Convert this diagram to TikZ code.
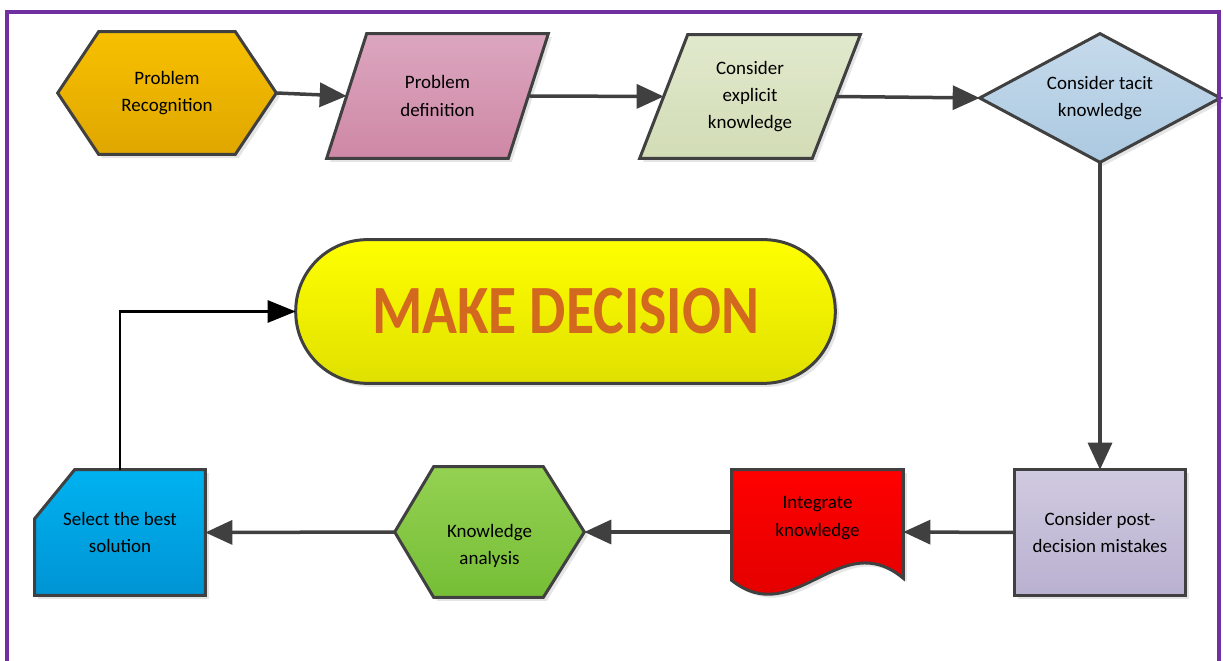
\documentclass[tikz,border=0pt]{standalone}
\usepackage{fontspec}
\setmainfont{Carlito}
\usetikzlibrary{arrows.meta, calc, backgrounds, shadows}
\definecolor{edge}{HTML}{404040}
\definecolor{frm}{HTML}{7030A0}
\definecolor{prT}{HTML}{F8C000}
\definecolor{prB}{HTML}{DFA700}
\definecolor{pdT}{HTML}{DCA6BF}
\definecolor{pdB}{HTML}{CE88A6}
\definecolor{ceT}{HTML}{E1E9CD}
\definecolor{ceB}{HTML}{D2DCB5}
\definecolor{ctT}{HTML}{C6DAEB}
\definecolor{ctB}{HTML}{ABC9E1}
\definecolor{pmT}{HTML}{D0CAE0}
\definecolor{pmB}{HTML}{B9B1D0}
\definecolor{ikT}{HTML}{FF0000}
\definecolor{ikB}{HTML}{DC0000}
\definecolor{kaT}{HTML}{94D152}
\definecolor{kaB}{HTML}{76BE36}
\definecolor{sbT}{HTML}{00B2F0}
\definecolor{sbB}{HTML}{0094D4}
\definecolor{mdT}{HTML}{FFFF00}
\definecolor{mdB}{HTML}{E0E000}
\definecolor{mdtext}{HTML}{D2691E}

\begin{document}
\begin{tikzpicture}[
    x=0.02cm, y=-0.02cm,
    font=\fontsize{10.8}{15.5}\selectfont,
    box/.style={rectangle, inner sep=0pt, align=center},
    shp/.style={draw=edge, line width=0.06cm,
      drop shadow={shadow xshift=0.07cm, shadow yshift=-0.07cm, fill=black!25, opacity=0.4}},
    flow/.style={-{Triangle[length=0.54cm, width=0.48cm]}, draw=edge, line width=0.07cm},
    back/.style={-{Triangle[length=0.56cm, width=0.44cm]}, draw=black, line width=0.055cm},
    frame/.style={draw=frm, line width=0.09cm},
  ]
  \useasboundingbox (0,0) rectangle (1223,661);
  \draw[frame] (7,661) -- (7,12) -- (1219,12) -- (1219,661);
  % ------------------------------------------------------------------ top row
  \node[box, minimum width=4.36cm, minimum height=2.44cm] (pr) at (167,93) {Problem\\Recognition};
  \node[box, minimum width=4.42cm, minimum height=2.48cm] (pd) at (437.5,96) {Problem\\definition};
  \node[box, minimum width=4.4cm, minimum height=2.46cm] (ce) at (750,96.5) {Consider\\explicit\\knowledge};
  \node[box, minimum width=4.8cm, minimum height=2.56cm] (ct) at (1100,98) {Consider tacit\\knowledge};
  % ------------------------------------------------------------------ centre
  \node[box, minimum width=10.78cm, minimum height=2.86cm, text=mdtext,
        font=\bfseries\fontsize{32.8}{36}\selectfont] (md) at (565.5,311.5) {\scalebox{1}[1.2]{MAKE DECISION}};
  % ------------------------------------------------------------------ bottom row
  \node[box, minimum width=3.4cm, minimum height=2.5cm] (pm) at (1100,532.5) {Consider post-\\decision mistakes};
  \node[box, minimum width=3.42cm, minimum height=2.48cm, text depth=0.62cm] (ik) at (817.5,532) {Integrate\\knowledge};
  \node[box, minimum width=3.78cm, minimum height=2.6cm, text height=1.36cm] (ka) at (489.5,532) {Knowledge\\analysis};
  \node[box, minimum width=3.4cm, minimum height=2.5cm] (sb) at (120,532.5) {Select the best\\solution};
  % ------------------------------------------------------------------ shapes behind the texts
  \begin{scope}[on background layer]
    \path[shp, top color=prT, bottom color=prB] (pr.west) -- ($(pr.north west)+(41,0)$) -- ($(pr.north east)+(-41,0)$)
      -- (pr.east) -- ($(pr.south east)+(-41,0)$) -- ($(pr.south west)+(41,0)$) -- cycle;
    \path[shp, top color=pdT, bottom color=pdB] (pd.south west) -- ($(pd.north west)+(40,0)$) -- (pd.north east)
      -- ($(pd.south east)+(-40,0)$) -- cycle;
    \path[shp, top color=ceT, bottom color=ceB] (ce.south west) -- ($(ce.north west)+(48,0)$) -- (ce.north east)
      -- ($(ce.south east)+(-48,0)$) -- cycle;
    \path[shp, top color=ctT, bottom color=ctB] (ct.west) -- (ct.north) -- (ct.east) -- (ct.south) -- cycle;
    \path[shp, top color=mdT, bottom color=mdB, rounded corners=1.43cm] (md.north west) rectangle (md.south east);
    \path[shp, top color=pmT, bottom color=pmB] (pm.north west) rectangle (pm.south east);
    \path[shp, top color=ikT, bottom color=ikB] (ik.north west) -- (ik.north east) -- ($(ik.south east)+(0,-16)$)
      .. controls ($(ik.south east)+(-63,-69)$) and ($(ik.south west)+(63,36)$) .. ($(ik.south west)+(0,-14)$) -- cycle;
    \path[shp, top color=kaT, bottom color=kaB] (ka.west) -- ($(ka.north west)+(39,0)$) -- ($(ka.north east)+(-41,0)$)
      -- (ka.east) -- ($(ka.south east)+(-41,0)$) -- ($(ka.south west)+(39,0)$) -- cycle;
    \path[shp, top color=sbT, bottom color=sbB] (sb.south west) -- ($(sb.north west)+(0,49)$) -- ($(sb.north west)+(40,0)$)
      -- (sb.north east) -- (sb.south east) -- cycle;
  \end{scope}
  % ------------------------------------------------------------------ connectors
  \draw[flow] (pr.east) -- ($(pd.west)+(20,0)$);
  \draw[flow] ($(pd.east)+(-20,0)$) -- ($(ce.west)+(24,0)$);
  \draw[flow] ($(ce.east)+(-24,0)$) -- (ct.west);
  \draw[flow] (ct.south) -- (pm.north);
  \draw[flow] (pm.west) -- (ik.east);
  \draw[flow] (ik.west) -- (ka.east);
  \draw[flow] (ka.west) -- (sb.east);
  \draw[back] (sb.north) |- (md.west);
\end{tikzpicture}
\end{document}
